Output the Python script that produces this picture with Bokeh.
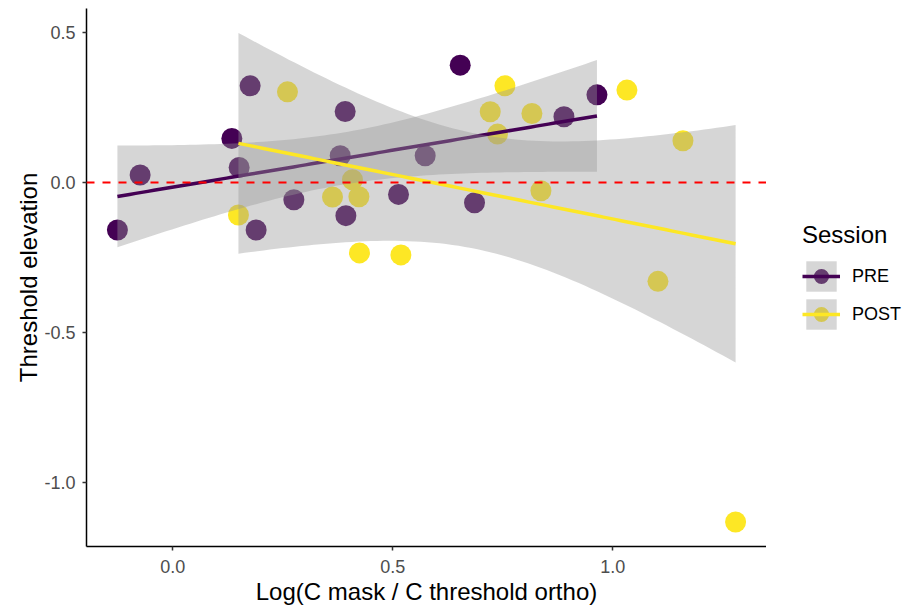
import numpy as np
from bokeh.plotting import figure
from bokeh.layouts import row
from bokeh.models import ColumnDataSource, Span, Legend, LegendItem, FixedTicker
from bokeh.embed import file_html
from bokeh.resources import INLINE

# ---------------- data ----------------
pre_x = [-0.1257, -0.0741, 0.1343, 0.1509, 0.1759, 0.1895, 0.2752, 0.3805,
         0.3918, 0.3934, 0.5130, 0.5736, 0.6532, 0.6857, 0.8889, 0.9639]
pre_y = [-0.1587, 0.0247, 0.1467, 0.0500, 0.3223, -0.1587, -0.0577, 0.0890,
         0.2367, -0.1110, -0.0400, 0.0890, 0.3913, -0.0677, 0.2190, 0.2923]

post_x = [0.1493, 0.2607, 0.3630, 0.4084, 0.4230, 0.4243, 0.5184, 0.7214,
          0.7380, 0.7548, 0.8161, 0.8366, 1.0320, 1.1025, 1.1593, 1.2789]
post_y = [-0.1087, 0.3023, -0.0487, 0.0090, -0.0477, -0.2353, -0.2420, 0.2357,
          0.1613, 0.3223, 0.2300, -0.0277, 0.3080, -0.3300, 0.1390, -1.1333]

sessions = ["PRE", "POST"]
session_colors = ["#440154", "#FDE725"]
ref_y = 0.0

x_ticks = [0.0, 0.5, 1.0]
x_tick_labels = ["0.0", "0.5", "1.0"]
y_ticks = [-1.0, -0.5, 0.0, 0.5]
y_tick_labels = ["-1.0", "-0.5", "0.0", "0.5"]

T_975_DF14 = 2.144787  # Student t quantile, 95% CI, n-2 = 14


def lm_band(xs, ys, n=80):
    x = np.asarray(xs, float)
    y = np.asarray(ys, float)
    b, a = np.polyfit(x, y, 1)
    resid = y - (a + b * x)
    dof = len(x) - 2
    s = np.sqrt(np.sum(resid ** 2) / dof)
    xm = x.mean()
    sxx = np.sum((x - xm) ** 2)
    grid = np.linspace(x.min(), x.max(), n)
    fit = a + b * grid
    se = s * np.sqrt(1.0 / len(x) + (grid - xm) ** 2 / sxx)
    return dict(x=grid, fit=fit, lo=fit - T_975_DF14 * se, hi=fit + T_975_DF14 * se)


point_srcs = [ColumnDataSource(dict(x=pre_x, y=pre_y)), ColumnDataSource(dict(x=post_x, y=post_y))]
fits = [lm_band(pre_x, pre_y), lm_band(post_x, post_y)]
fit_srcs = [ColumnDataSource(f) for f in fits]

all_x = np.array(pre_x + post_x)
all_y = np.concatenate([pre_y, post_y] + [f["lo"] for f in fits] + [f["hi"] for f in fits])
xpad = 0.05 * (all_x.max() - all_x.min())
ypad = 0.05 * (all_y.max() - all_y.min())

FONT = "Liberation Sans"
W, H = 906, 607
MAIN_W = 766


def draw_session(fig, i):
    return fig.scatter(x="x", y="y", source=point_srcs[i], size=21,
                       fill_color=session_colors[i], line_color=None)


def draw_fit(fig, i):
    band = fig.varea(x="x", y1="lo", y2="hi", source=fit_srcs[i],
                     fill_color="#999999", fill_alpha=0.4)
    line = fig.line(x="x", y="fit", source=fit_srcs[i],
                    line_color=session_colors[i], line_width=3.5)
    return band, line


p = figure(width=MAIN_W, height=H, output_backend="svg", toolbar_location=None,
           x_range=(all_x.min() - xpad, all_x.max() + xpad),
           y_range=(all_y.min() - ypad, all_y.max() + ypad),
           min_border_left=86, min_border_right=0, min_border_top=8,
           min_border_bottom=59)
p.grid.visible = False
p.outline_line_color = None
p.background_fill_color = "white"

# points first: the confidence ribbons are drawn over them
for i in range(2):
    draw_session(p, i)
for i in range(2):
    draw_fit(p, i)

p.add_layout(Span(location=ref_y, dimension="width", line_color="red",
                  line_dash="8 8", line_width=2))

p.xaxis.ticker = FixedTicker(ticks=x_ticks)
p.xaxis.major_label_overrides = dict(zip(x_ticks, x_tick_labels))
p.yaxis.ticker = FixedTicker(ticks=y_ticks)
p.yaxis.major_label_overrides = dict(zip(y_ticks, y_tick_labels))
p.xaxis.axis_label = "Log(C mask / C threshold ortho)"
p.yaxis.axis_label = "Threshold elevation"
for ax in (p.xaxis, p.yaxis):
    ax.axis_line_color = "black"
    ax.axis_line_width = 1.5
    ax.major_tick_line_color = "#333333"
    ax.major_tick_line_width = 1.5
    ax.major_tick_out = 4
    ax.major_tick_in = 0
    ax.minor_tick_line_color = None
    ax.major_label_text_font = FONT
    ax.major_label_text_font_size = "18px"
    ax.major_label_text_color = "#4D4D4D"
    ax.axis_label_text_font = FONT
    ax.axis_label_text_font_size = "24px"
    ax.axis_label_text_font_style = "normal"
    ax.axis_label_text_color = "black"
p.xaxis.major_label_standoff = 9
p.xaxis.axis_label_standoff = 2
p.yaxis.major_label_standoff = 7
p.yaxis.axis_label_standoff = -1

# legend panel: a separate figure whose proxy renderers lie outside its view
lg = figure(width=W - MAIN_W, height=H, output_backend="svg", toolbar_location=None,
            x_range=(100, 101), y_range=(100, 101),
            x_axis_location=None, y_axis_location=None,
            min_border_left=0, min_border_right=0, min_border_top=0, min_border_bottom=0)
lg.grid.visible = False
lg.outline_line_color = None

items = []
for i in range(2):
    pts = draw_session(lg, i)
    band, line = draw_fit(lg, i)
    items.append(LegendItem(label=sessions[i], renderers=[pts, band, line]))

legend = Legend(
    items=items, title="Session", location=(36, 213),
    title_text_font=FONT, title_text_font_size="24px", title_text_font_style="normal",
    title_text_color="black", title_standoff=8,
    label_text_font=FONT, label_text_font_size="18px", label_text_color="black",
    glyph_width=38, glyph_height=38, spacing=0, padding=0, margin=0,
    label_standoff=12, border_line_color=None, background_fill_alpha=0,
)
lg.add_layout(legend)

open("out.html", "w").write(file_html(row(p, lg), INLINE))
